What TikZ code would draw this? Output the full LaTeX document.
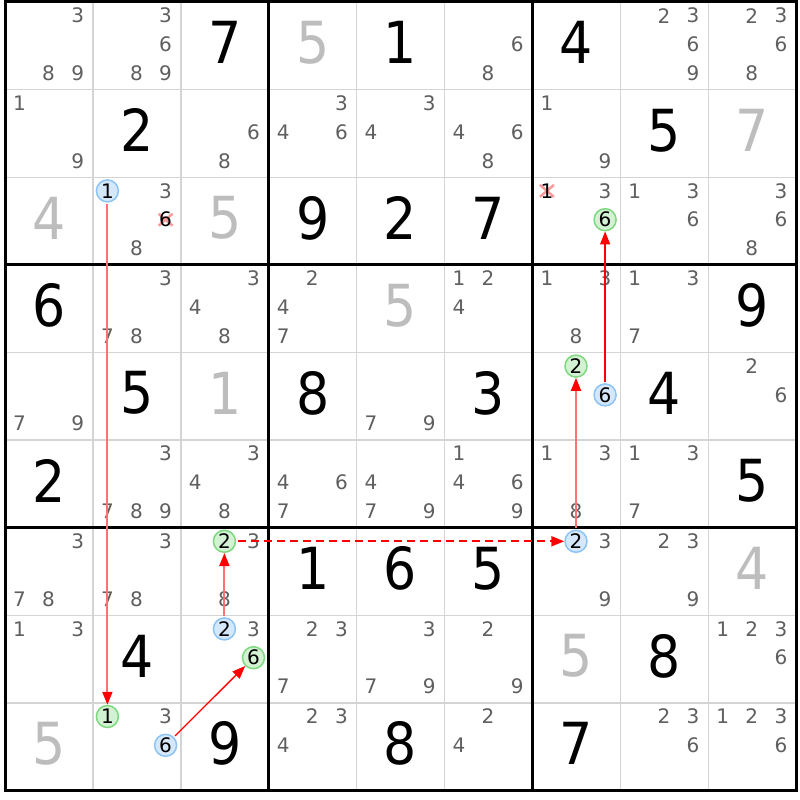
\documentclass[tikz,border=0pt]{standalone}
\usepackage{fontspec}
\setmainfont{DejaVu Sans}
\newfontfamily\bigfont[FakeStretch=0.9]{DejaVu Sans}
\usetikzlibrary{arrows.meta}
\definecolor{cand}{HTML}{5F5F5F}
\definecolor{given}{HTML}{BDBDBD}
\definecolor{thinc}{HTML}{D4D4D4}
\definecolor{bfill}{HTML}{D5E8FB}
\definecolor{bline}{HTML}{8CC4F5}
\definecolor{gfill}{HTML}{D3F2D3}
\definecolor{gline}{HTML}{7DD87F}
\definecolor{lred}{HTML}{FF7070}
\definecolor{fred}{HTML}{FF0000}
\definecolor{xred}{HTML}{FF9A9A}
\newcommand\cands[3]{\foreach \d in {#3}{%
 \pgfmathsetmacro\cx{5+(#2-1)*87.9+14.5+mod(\d-1,3)*29.1}%
 \pgfmathsetmacro\cy{2+(#1-1)*87.6+13.7+div(\d-1,3)*28.8}%
 \node[candst] (k#1#2\d) at (\cx,\cy) {\d};}}
\newcommand\mk[5]{%
 \pgfmathsetmacro\cx{5+(#4-1)*87.9+14.5+mod(#5-1,3)*29.1}%
 \pgfmathsetmacro\cy{2+(#3-1)*87.6+13.7+div(#5-1,3)*28.8}%
 \node[#1] (#2) at (\cx,\cy) {#5};}
\newcommand\xm[4]{%
 \pgfmathsetmacro\cx{5+(#3-1)*87.9+14.5+mod(#4-1,3)*29.1}%
 \pgfmathsetmacro\cy{2+(#2-1)*87.6+13.7+div(#4-1,3)*28.8}%
 \draw[xmark] (\cx-7,\cy-6) -- (\cx+7,\cy+6) (\cx-7,\cy+6) -- (\cx+7,\cy-6);
 \node[candst,text=black] (#1) at (\cx,\cy) {#4};}
\newcommand\bigd[4]{\node[bigst,text=#4] (v#1#2) at ({5+(#2-0.5)*87.9},{2+(#1-0.5)*87.6-3}) {#3};}
\begin{document}
\begin{tikzpicture}[x=1pt,y=-1pt,
 candst/.style={text=cand,font=\fontsize{20}{20}\selectfont,inner sep=0pt},
 bigst/.style={font=\bigfont\fontsize{58}{58}\selectfont,inner sep=0pt},
 blu/.style={circle,draw=bline,fill=bfill,line width=1.5pt,minimum size=22pt,inner sep=0pt,text=black,font=\fontsize{20}{20}\selectfont},
 grn/.style={blu,draw=gline,fill=gfill},
 link/.style={draw=lred,line width=2pt,shorten <=1.5pt,-{Triangle[length=13pt,width=10pt,color=fred]}},
 thinlink/.style={draw=fred,line width=1.3pt,shorten <=1.5pt,-{Triangle[length=13pt,width=10pt,color=fred]}},
 dlink/.style={draw=fred,line width=2pt,dash pattern=on 8pt off 5pt,shorten <=2pt,-{Triangle[length=13pt,width=10pt,color=fred]}},
 xmark/.style={draw=xred,line width=2.5pt},
 thinl/.style={draw=thinc,line width=1.4pt},
 thickl/.style={draw=black,line width=3pt}]
\useasboundingbox[fill=white] (0,0) rectangle (800,800);
% thin lines
\foreach \i in {1,2,4,5,7,8}{
 \draw[thinl] ({5+\i*87.9},2) -- ({5+\i*87.9},790.4);
 \draw[thinl] (5,{2+\i*87.6}) -- (796.1,{2+\i*87.6});}
% thick lines
\foreach \i in {3,6}{
 \draw[thickl] ({5+\i*87.9},2) -- ({5+\i*87.9},790.4);
 \draw[thickl] (5,{2+\i*87.6}) -- (796.1,{2+\i*87.6});}
\draw[thickl] (5,2) rectangle (796.1,790.4);
% row 1
\cands{1}{1}{3,8,9}\cands{1}{2}{3,6,8,9}\bigd{1}{3}{7}{black}\bigd{1}{4}{5}{given}
\bigd{1}{5}{1}{black}\cands{1}{6}{6,8}\bigd{1}{7}{4}{black}\cands{1}{8}{2,3,6,9}\cands{1}{9}{2,3,6,8}
% row 2
\cands{2}{1}{1,9}\bigd{2}{2}{2}{black}\cands{2}{3}{6,8}\cands{2}{4}{3,4,6}\cands{2}{5}{3,4}
\cands{2}{6}{4,6,8}\cands{2}{7}{1,9}\bigd{2}{8}{5}{black}\bigd{2}{9}{7}{given}
% row 3
\bigd{3}{1}{4}{given}\cands{3}{2}{3,8}\xm{x326}{3}{2}{6}\mk{blu}{b321}{3}{2}{1}
\bigd{3}{3}{5}{given}\bigd{3}{4}{9}{black}\bigd{3}{5}{2}{black}\bigd{3}{6}{7}{black}
\cands{3}{7}{3}\xm{x371}{3}{7}{1}\mk{grn}{g376}{3}{7}{6}\cands{3}{8}{1,3,6}\cands{3}{9}{3,6,8}
% row 4
\bigd{4}{1}{6}{black}\cands{4}{2}{3,7,8}\cands{4}{3}{3,4,8}\cands{4}{4}{2,4,7}\bigd{4}{5}{5}{given}
\cands{4}{6}{1,2,4}\cands{4}{7}{1,3,8}\cands{4}{8}{1,3,7}\bigd{4}{9}{9}{black}
% row 5
\cands{5}{1}{7,9}\bigd{5}{2}{5}{black}\bigd{5}{3}{1}{given}\bigd{5}{4}{8}{black}\cands{5}{5}{7,9}
\bigd{5}{6}{3}{black}\mk{grn}{g572}{5}{7}{2}\mk{blu}{b576}{5}{7}{6}\bigd{5}{8}{4}{black}\cands{5}{9}{2,6}
% row 6
\bigd{6}{1}{2}{black}\cands{6}{2}{3,7,8,9}\cands{6}{3}{3,4,8}\cands{6}{4}{4,6,7}\cands{6}{5}{4,7,9}
\cands{6}{6}{1,4,6,9}\cands{6}{7}{1,3,8}\cands{6}{8}{1,3,7}\bigd{6}{9}{5}{black}
% row 7
\cands{7}{1}{3,7,8}\cands{7}{2}{3,7,8}\cands{7}{3}{3,8}\mk{grn}{g732}{7}{3}{2}
\bigd{7}{4}{1}{black}\bigd{7}{5}{6}{black}\bigd{7}{6}{5}{black}
\cands{7}{7}{3,9}\mk{blu}{b772}{7}{7}{2}\cands{7}{8}{2,3,9}\bigd{7}{9}{4}{given}
% row 8
\cands{8}{1}{1,3}\bigd{8}{2}{4}{black}\cands{8}{3}{3}\mk{blu}{b832}{8}{3}{2}\mk{grn}{g836}{8}{3}{6}
\cands{8}{4}{2,3,7}\cands{8}{5}{3,7,9}\cands{8}{6}{2,9}\bigd{8}{7}{5}{given}\bigd{8}{8}{8}{black}\cands{8}{9}{1,2,3,6}
% row 9
\bigd{9}{1}{5}{given}\cands{9}{2}{3}\mk{grn}{g921}{9}{2}{1}\mk{blu}{b926}{9}{2}{6}
\bigd{9}{3}{9}{black}\cands{9}{4}{2,3,4}\bigd{9}{5}{8}{black}\cands{9}{6}{2,4}
\bigd{9}{7}{7}{black}\cands{9}{8}{2,3,6}\cands{9}{9}{1,2,3,6}
% links
\draw[link] (b321) -- (g921);
\draw[thinlink] (b576) -- (g376);
\draw[link] (b772) -- (g572);
\draw[dlink] (g732) -- (b772);
\draw[link] (b832) -- (g732);
\draw[thinlink] (b926) -- (g836);
\end{tikzpicture}
\end{document}
